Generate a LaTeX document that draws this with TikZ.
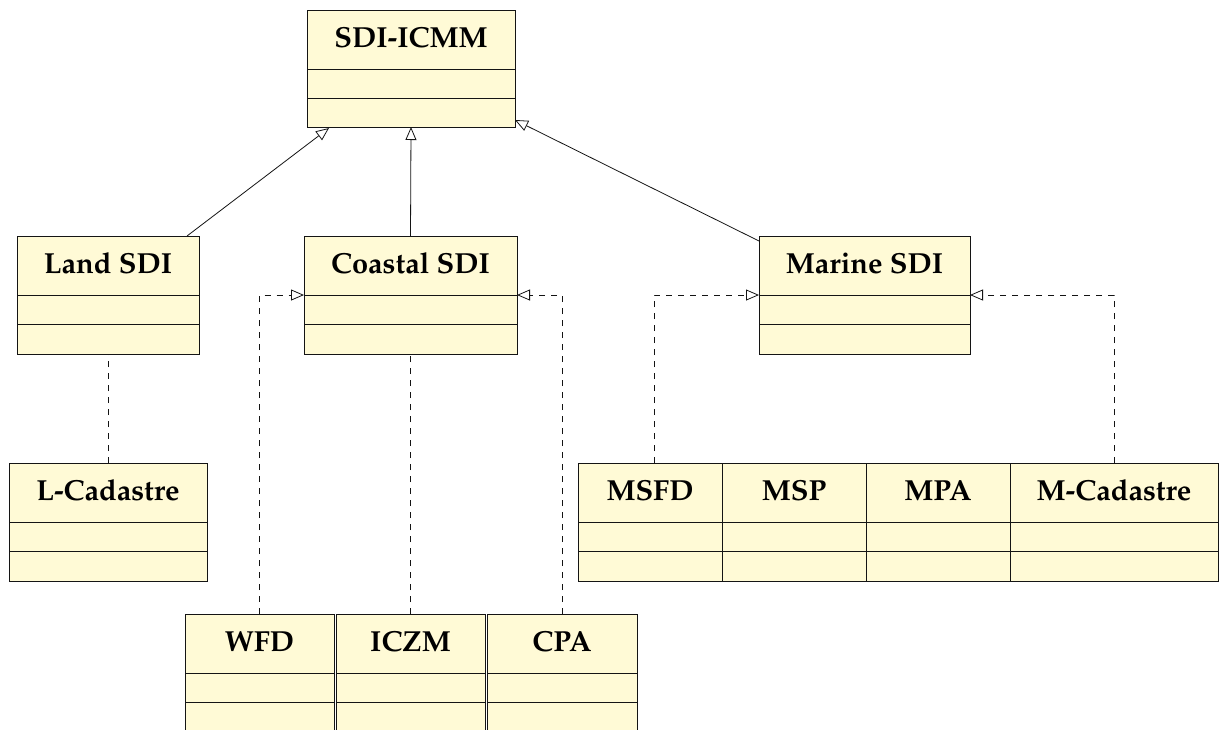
\documentclass[tikz,border=0pt]{standalone}
\usepackage[T1]{fontenc}
\usepackage{mathpazo}
\usetikzlibrary{arrows.meta,calc}
\definecolor{umlfill}{RGB}{255,250,214}
\definecolor{umlline}{RGB}{20,20,20}
\tikzset{
  umlbox/.style={draw=umlline, fill=umlfill, line width=1pt, inner sep=0pt, outer sep=0pt, anchor=north west},
  umltitle/.style={font=\fontsize{29}{34}\selectfont\bfseries, anchor=base, inner sep=0pt},
  divider/.style={draw=umlline, line width=1pt},
  gen/.style={draw=umlline, line width=0.8pt, -{Triangle[open, length=13pt, width=11pt, fill=white]}},
  realz/.style={draw=umlline, line width=0.8pt, dash pattern=on 6pt off 6pt, -{Triangle[open, length=13pt, width=11pt, fill=white]}},
  dep/.style={draw=umlline, line width=0.8pt, dash pattern=on 6pt off 6pt},
}
\newcommand\umlclass[6]{%
  \node[umlbox, minimum width={(#4-#2)*1pt}, minimum height={(#5-#3)*1pt}] (#1) at (#2,#3) {};
  \node[umltitle] (#1-t) at ($(#1.north)+(0,37)$) {#6};
  \draw[divider] ($(#1.north west)+(0,59)$) -- ($(#1.north east)+(0,59)$);
  \draw[divider] ($(#1.north west)+(0,88)$) -- ($(#1.north east)+(0,88)$);
}
\begin{document}
\begin{tikzpicture}[x=1pt,y=-1pt]
\useasboundingbox[fill=white] (0,0) rectangle (1223,729);
% classes
\umlclass{icmm}{307}{10}{515}{127}{SDI-ICMM}
\umlclass{land}{17}{236}{199}{354}{Land SDI}
\umlclass{coastal}{304}{236}{517}{354}{Coastal SDI}
\umlclass{marine}{759}{236}{970}{354}{Marine SDI}
\umlclass{lcad}{9}{463}{207}{581}{L-Cadastre}
\umlclass{msfd}{578}{463}{722}{581}{MSFD}
\umlclass{msp}{722}{463}{866}{581}{MSP}
\umlclass{mpa}{866}{463}{1010}{581}{MPA}
\umlclass{mcad}{1010}{463}{1218}{581}{M-Cadastre}
\umlclass{wfd}{185}{614}{334}{732}{WFD}
\umlclass{iczm}{336}{614}{485}{732}{ICZM}
\umlclass{cpa}{487}{614}{637}{732}{CPA}
% generalisations
\draw[gen] ($(land.north east)+(-12,0)$) -- ($(icmm.south west)+(22,1)$);
\draw[gen] (coastal.north) -- (icmm.south);
\draw[gen] ($(marine.north west)+(0,5)$) -- ($(icmm.south east)+(0,-7)$);
% dependencies
\draw[dep] (lcad.north) -- (land.south);
\draw[dep] (iczm.north) -- (coastal.south);
\draw[dep] ($(msp.north)+(4,0)$) -- ($(msp.north)+(4,0)$ |- marine.south);
\draw[dep] ($(mpa.north)+(4,0)$) -- ($(mpa.north)+(4,0)$ |- marine.south);
% realisations
\coordinate (cL) at ($(coastal.north west)+(0,59)$);
\coordinate (cR) at ($(coastal.north east)+(0,59)$);
\coordinate (mL) at ($(marine.north west)+(0,59)$);
\coordinate (mR) at ($(marine.north east)+(0,59)$);
\draw[realz] (wfd.north) |- (cL);
\draw[realz] (cpa.north) |- (cR);
\draw[realz] ($(msfd.north)+(4,0)$) |- (mL);
\draw[realz] (mcad.north) |- (mR);
\end{tikzpicture}
\end{document}
